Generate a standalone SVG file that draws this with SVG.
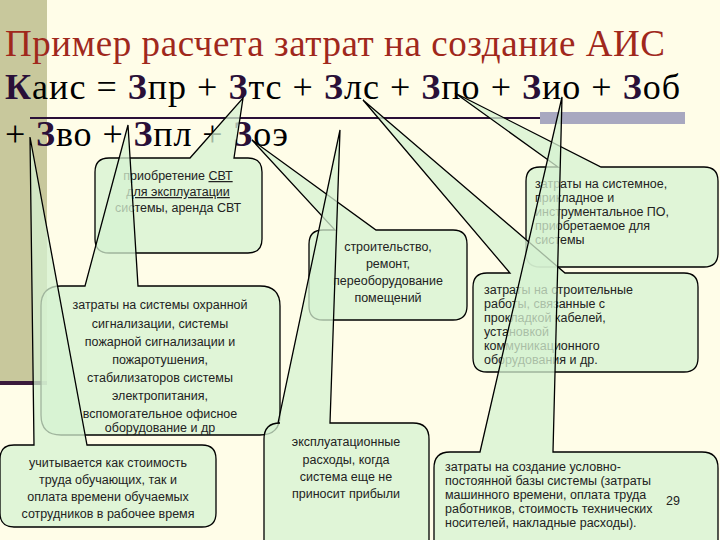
<svg xmlns="http://www.w3.org/2000/svg" width="720" height="540" viewBox="0 0 720 540">
<style>
.co{fill:#d6f2d2;fill-opacity:0.75;stroke:#000;stroke-width:1.3}
.t{font-family:"Liberation Sans",Arial,sans-serif;font-size:12.5px;fill:#222}
.c{text-anchor:middle}
.f{font-family:"Liberation Serif","DejaVu Serif","Times New Roman",serif;font-size:36px;fill:#000}
.h{font-family:"Liberation Serif","DejaVu Serif","Times New Roman",serif;font-size:37px;fill:#a0281c}
.b{font-weight:bold;fill:#2a1038}
</style>
<rect width="720" height="540" fill="#fffde8"/>
<rect x="0" y="0" width="47" height="383" fill="#c8c89c"/>
<rect x="0" y="381" width="47" height="4" fill="#3a1a3a"/>
<line x1="30" y1="118" x2="540" y2="118" stroke="#2a1038" stroke-width="2"/>
<rect x="540" y="112" width="145" height="12" fill="#a8a8c0"/>
<text class="h" x="5" y="56" textLength="660">Пример расчета затрат на создание АИС</text>
<text class="f" x="5" y="99" textLength="675"><tspan class="b">К</tspan>аис = <tspan class="b">З</tspan>пр + <tspan class="b">З</tspan>тс + <tspan class="b">З</tspan>лс + <tspan class="b">З</tspan>по + <tspan class="b">З</tspan>ио + <tspan class="b">З</tspan>об</text>
<text class="f" x="5" y="146" textLength="283">+ <tspan class="b">З</tspan>во + <tspan class="b">З</tspan>пл + <tspan class="b">З</tspan>оэ</text>
<g id="connectors"></g>
<g id="nA"><path class="co" d="M109,158 H190 L243,98 L234,158 H248 Q262,158 262,172 V239 Q262,253 248,253 H109 Q95,253 95,239 V172 Q95,158 109,158 Z"/>
<text class="t c" x="178" y="180">приобретение <tspan text-decoration="underline">СВТ</tspan></text>
<text class="t c" x="178" y="196" text-decoration="underline">для эксплуатации</text>
<text class="t c" x="178" y="212">системы, аренда СВТ</text></g>
<g id="nB"><path class="co" d="M540,167 H558 L455,93 L601,167 H704 Q718,167 718,181 V253 Q718,267 704,267 H540 Q526,267 526,253 V181 Q526,167 540,167 Z"/>
<text class="t" x="535" y="188">затраты на системное,</text>
<text class="t" x="535" y="202">прикладное и</text>
<text class="t" x="535" y="216">инструментальное ПО,</text>
<text class="t" x="535" y="230">приобретаемое для</text>
<text class="t" x="535" y="244">системы</text></g>
<g id="nC"><path class="co" d="M323,230 H335 L252,140 L376,230 H453 Q467,230 467,244 V306 Q467,320 453,320 H323 Q309,320 309,306 V244 Q309,230 323,230 Z"/>
<text class="t c" x="388" y="251">строительство,</text>
<text class="t c" x="388" y="268">ремонт,</text>
<text class="t c" x="388" y="285">переоборудование</text>
<text class="t c" x="388" y="302">помещений</text></g>
<g id="nD"><path class="co" d="M487,273 H510 L363,100 L565,273 H684 Q698,273 698,287 V358 Q698,372 684,372 H487 Q473,372 473,358 V287 Q473,273 487,273 Z"/>
<text class="t" x="484" y="294">затраты на строительные</text>
<text class="t" x="484" y="308">работы, связанные с</text>
<text class="t" x="484" y="322">прокладкой кабелей,</text>
<text class="t" x="484" y="336">установкой</text>
<text class="t" x="484" y="350">коммуникационного</text>
<text class="t" x="484" y="364">оборудования и др.</text></g>
<g id="nE"><path class="co" d="M61,286 H85 L128,125 L138,286 H260 Q280,286 280,306 V415 Q280,435 260,435 H61 Q41,435 41,415 V306 Q41,286 61,286 Z"/>
<text class="t c" x="160" y="309">затраты на системы охранной</text>
<text class="t c" x="160" y="328">сигнализации, системы</text>
<text class="t c" x="160" y="346">пожарной сигнализации и</text>
<text class="t c" x="160" y="364">пожаротушения,</text>
<text class="t c" x="160" y="382">стабилизаторов системы</text>
<text class="t c" x="160" y="400">электропитания,</text>
<text class="t c" x="160" y="418">вспомогательное офисное</text>
<text class="t c" x="160" y="432">оборудование и др</text></g>
<g id="nF"><path class="co" d="M280,423 H278 L340,130 L330,423 H413 Q429,423 429,439 V545 H264 V439 Q264,423 280,423 Z"/>
<text class="t c" x="346" y="446">эксплуатационные</text>
<text class="t c" x="346" y="464">расходы, когда</text>
<text class="t c" x="346" y="481">система еще не</text>
<text class="t c" x="346" y="498">приносит прибыли</text></g>
<g id="nG"><path class="co" d="M14,445 H34 L30,137 L87,445 H202 Q216,445 216,459 V513 Q216,527 202,527 H14 Q0,527 0,513 V459 Q0,445 14,445 Z"/>
<text class="t c" x="108" y="467">учитывается как стоимость</text>
<text class="t c" x="108" y="484">труда обучающих, так и</text>
<text class="t c" x="108" y="501">оплата времени обучаемых</text>
<text class="t c" x="108" y="518">сотрудников в рабочее время</text></g>
<g id="nH"><path class="co" d="M450,452 H480 L562,97 L553,452 H702 Q718,452 718,468 V545 H434 V468 Q434,452 450,452 Z"/>
<text class="t" x="445" y="471">затраты на создание условно-</text>
<text class="t" x="445" y="485">постоянной базы системы (затраты</text>
<text class="t" x="445" y="499">машинного времени, оплата труда</text>
<text class="t" x="445" y="513">работников, стоимость технических</text>
<text class="t" x="445" y="527">носителей, накладные расходы).</text>
<text class="t" x="666" y="505" font-size="10">29</text></g>
</svg>
